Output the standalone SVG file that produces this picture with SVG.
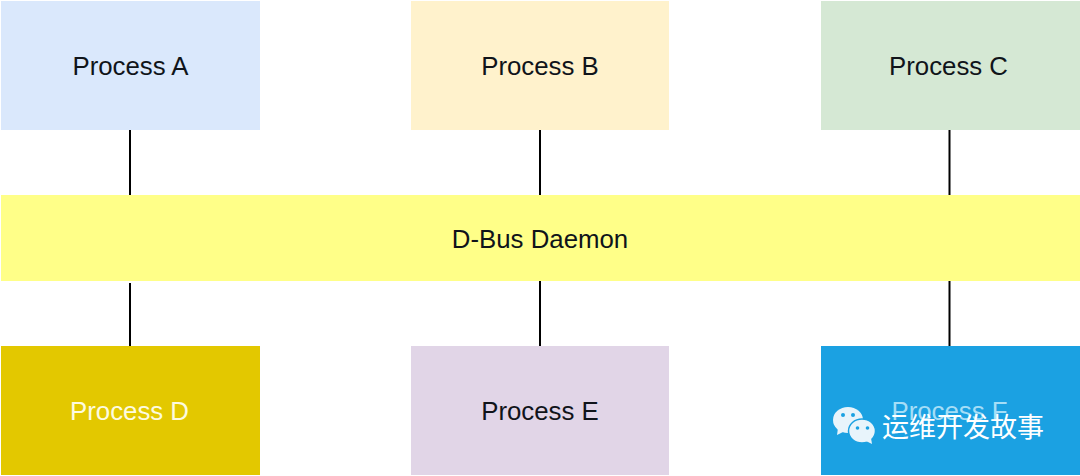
<svg xmlns="http://www.w3.org/2000/svg" width="1080" height="476" viewBox="0 0 1080 476">
<style>
text{font-family:"Liberation Sans",Arial,sans-serif;font-size:25.800px;text-anchor:middle;fill:#10141a}
.w{fill:#fdfbe0}
.line{stroke:#000;stroke-width:2;fill:none}
.mark{font-family:"Noto Sans CJK SC","Noto Sans",sans-serif;font-size:27px;fill:#fff;text-anchor:start}
</style>
<rect width="1080" height="476" fill="#fff"/>
<g id="connectors">
<path class="line" d="M130 130V195M540 130V195M949.500 130V195M130 283V346M540 281V346M949.500 281V346"/>
</g>
<g id="process-a"><rect x="1" y="1" width="259" height="129" fill="#dae8fc"/><text x="130.500" y="75">Process A</text></g>
<g id="process-b"><rect x="411" y="1" width="258" height="129" fill="#fff2cc"/><text x="540" y="75">Process B</text></g>
<g id="process-c"><rect x="821" y="1" width="259" height="129" fill="#d5e8d4"/><text x="948.500" y="75">Process C</text></g>
<g id="daemon"><rect x="1" y="195" width="1079" height="86" fill="#ffff88"/><text x="540" y="248">D-Bus Daemon</text></g>
<g id="process-d"><rect x="1" y="346" width="259" height="129" fill="#e3c800"/><text class="w" x="129.500" y="420">Process D</text></g>
<g id="process-e"><rect x="411" y="346" width="258" height="129" fill="#e1d5e7"/><text x="540" y="420">Process E</text></g>
<g id="process-f"><rect x="821" y="346" width="259" height="129" fill="#1ba1e2"/><text x="949.500" y="420" style="fill:#a5def7">Process F</text></g>
<g id="watermark">
<ellipse cx="848" cy="420" rx="15" ry="13" fill="#e8f4fb"/>
<path d="M838 428l-1 7 8-4z" fill="#e8f4fb"/>
<ellipse cx="862" cy="431" rx="13.500" ry="12" fill="#e8f4fb" stroke="#1ba1e2" stroke-width="1.500"/>
<path d="M866 441l6 3-1-6z" fill="#e8f4fb"/>
<circle cx="843" cy="415" r="2" fill="#1ba1e2"/><circle cx="853" cy="415" r="2" fill="#1ba1e2"/>
<circle cx="857.500" cy="428" r="1.800" fill="#1ba1e2"/><circle cx="867.500" cy="428" r="1.800" fill="#1ba1e2"/>
<text class="mark" x="882" y="436.500">运维开发故事</text>
</g>
</svg>
